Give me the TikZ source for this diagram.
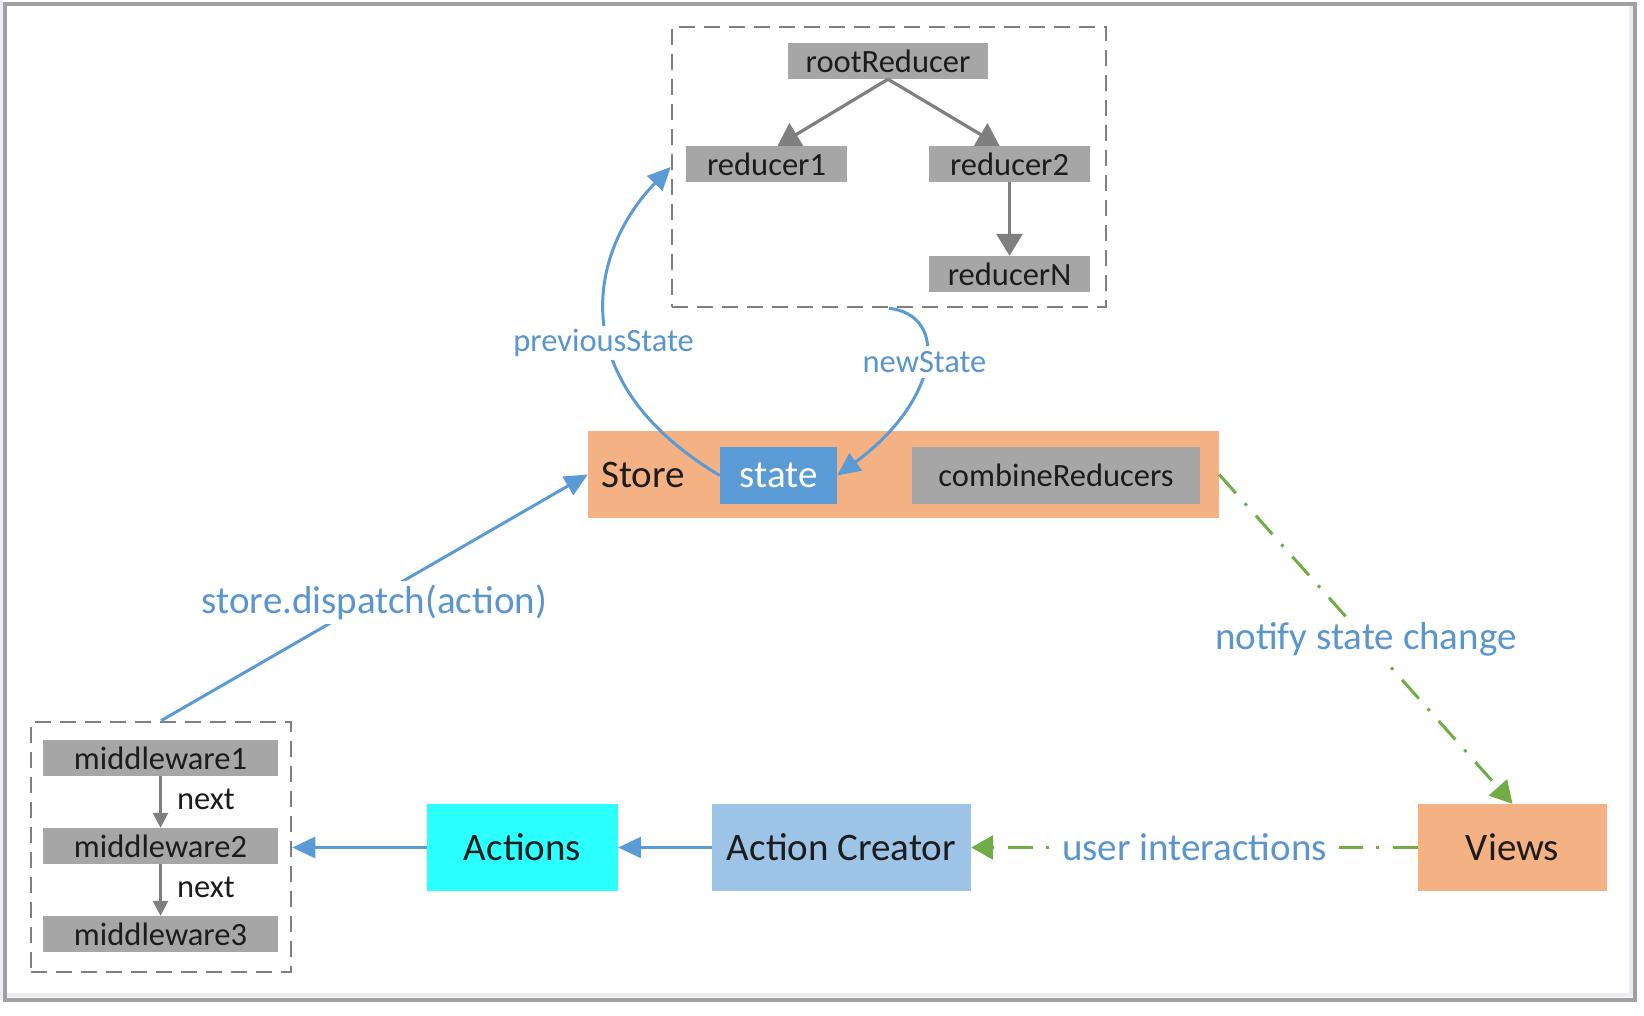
\documentclass[tikz,border=0pt]{standalone}
\usepackage{fontspec}
\setmainfont{Carlito}
\usetikzlibrary{arrows.meta,calc}

\definecolor{blueline}{HTML}{5B9BD5}
\definecolor{bluetext}{HTML}{5A95CE}
\definecolor{stateblue}{HTML}{5B9BD5}
\definecolor{greenline}{HTML}{70AD47}
\definecolor{grayfill}{HTML}{A6A6A6}
\definecolor{grayline}{HTML}{7F7F7F}
\definecolor{orangefill}{HTML}{F4B183}
\definecolor{cyanfill}{HTML}{2CFFFF}
\definecolor{creatorfill}{HTML}{9DC3E6}
\definecolor{framegray}{HTML}{A0A0A0}
\definecolor{framelight}{HTML}{ECECF3}
\definecolor{inktext}{HTML}{1C1C1C}

\newcommand\fsm{\fontsize{32.5}{39}\selectfont}
\newcommand\fbg{\fontsize{39}{47}\selectfont}

\begin{document}
\begin{tikzpicture}[x=1pt,y=-1pt,
  graybox/.style={fill=grayfill, inner sep=0, minimum height=36pt, font=\fsm, text=inktext},
  bigbox/.style={inner sep=0, minimum height=87pt, font=\fbg, text=inktext},
  dashbox/.style={draw=grayline, line width=2.6pt, dash pattern=on 16pt off 9pt, inner sep=0},
  grayarrow/.style={draw=grayline, line width=3.2pt, -{Triangle[length=22pt,width=26pt]}},
  smallarrow/.style={draw=grayline, line width=3pt, -{Triangle[length=15pt,width=15pt]}},
  bluearrow/.style={draw=blueline, line width=3pt, -{Triangle[length=23pt,width=21pt]}},
  greenarrow/.style={draw=greenline, line width=3pt,
    dash pattern=on 25pt off 13.5pt on 3pt off 13.5pt,
    -{Triangle[length=22pt,width=24pt]}},
  lbl/.style={fill=white, text=bluetext, inner sep=4pt},
  nextlbl/.style={font=\fsm, text=inktext, inner sep=0, anchor=west, xshift=15pt, yshift=3pt}]

\useasboundingbox (0,0) rectangle (1644,1016);

% outer frame
\fill[white] (0,0) rectangle (1644,1016);
\fill[framelight] (0,0) rectangle (3,1000);
\fill[framelight] (5,993) rectangle (1633,997);
\fill[framelight] (1629,6) rectangle (1633,997);
\draw[framegray, line width=4pt] (5,4.5) rectangle (1635,999.5);

% reducer tree
\node[dashbox, minimum width=434pt, minimum height=280pt] (redbox) at (889,167) {};
\node[graybox, minimum width=200pt] (root) at (888,61) {rootReducer};
\node[graybox, minimum width=161pt] (r1) at (766.5,164) {reducer1};
\node[graybox, minimum width=161pt] (r2) at (1009.5,164) {reducer2};
\node[graybox, minimum width=161pt] (rN) at (1009.5,274) {reducerN};
\draw[grayarrow] (root.south) -- ([xshift=11pt]r1.north);
\draw[grayarrow] (root.south) -- ([xshift=-10pt]r2.north);
\draw[grayarrow] (r2) -- (rN);

% store
\node[bigbox, fill=orangefill, minimum width=631pt] (store) at (903.5,474.5) {};
\node[font=\fbg, text=inktext, anchor=west, inner sep=0] (storelbl) at (601,475) {Store};
\node[fill=stateblue, text=white, font=\fbg, minimum width=117pt, minimum height=57pt, inner sep=0] (state) at (778.5,475.5) {state};
\node[graybox, minimum width=288pt, minimum height=57pt] (comb) at (1056,475.5) {combineReducers};

% state round trip through the reducers
\draw[bluearrow] (state.west) .. controls (560,380) and (590,250) .. (redbox.west)
  node[lbl, font=\fsm, pos=0.42, inner sep=3pt, xshift=-5pt] {previousState};
\draw[bluearrow] (redbox.south) .. controls (950,315) and (940,400) .. (state.east)
  node[lbl, font=\fsm, pos=0.5, inner sep=5pt, yshift=4pt] {newState};

% middleware chain
\node[dashbox, minimum width=260pt, minimum height=250pt] (mwbox) at (161,847) {};
\node[graybox, minimum width=235pt] (mw1) at (160.5,758) {middleware1};
\node[graybox, minimum width=235pt] (mw2) at (160.5,846) {middleware2};
\node[graybox, minimum width=235pt] (mw3) at (160.5,934) {middleware3};
\draw[smallarrow] (mw1) -- (mw2) node[nextlbl, midway] {next};
\draw[smallarrow] (mw2) -- (mw3) node[nextlbl, midway] {next};

\draw[bluearrow] (mwbox.north) -- (store.west)
  node[lbl, font=\fbg, midway, yshift=-5pt] {store.dispatch(action)};

% bottom row
\node[bigbox, fill=cyanfill, minimum width=191pt] (actions) at (522.5,847.5) {Actions};
\node[bigbox, fill=creatorfill, minimum width=259pt] (creator) at (841.5,847.5) {Action Creator};
\node[bigbox, fill=orangefill, minimum width=189pt] (views) at (1512.5,847.5) {Views};

\draw[bluearrow] (creator) -- (actions);
\draw[bluearrow] (actions.west) -- (actions.west -| mwbox.east);
\draw[greenarrow] (views) -- (creator)
  node[lbl, font=\fbg, midway, inner xsep=12pt] {user interactions};
\draw[greenarrow] (store.east) -- (views.north)
  node[lbl, font=\fbg, midway] {notify state change};

\end{tikzpicture}
\end{document}
